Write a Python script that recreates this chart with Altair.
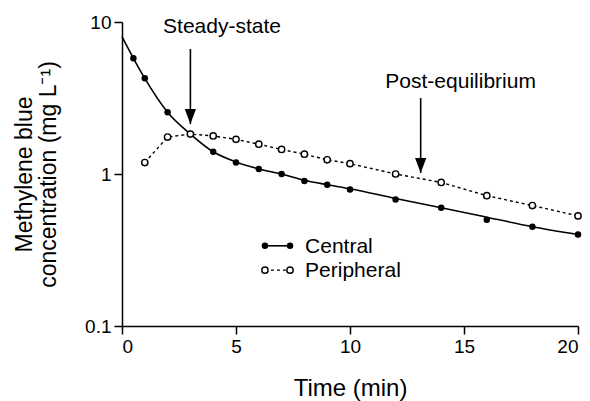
import altair as alt
import pandas as pd

# Measured data (central compartment, filled circles)
central_t = [0.5, 1, 2, 3, 4, 5, 6, 7, 8, 9, 10, 12, 14, 16, 18, 20]
central_v = [5.77, 4.26, 2.55, 1.83, 1.40, 1.19, 1.08, 1.00, 0.90, 0.85, 0.79, 0.68, 0.60, 0.50, 0.45, 0.40]

# Fitted curve for central compartment (solid line)
fit_t = [0, 0.5, 1, 2, 3, 4, 5, 6, 7, 8, 9, 10, 12, 14, 16, 18, 20]
fit_v = [8.0, 5.77, 4.26, 2.55, 1.83, 1.40, 1.20, 1.08, 1.00, 0.91, 0.85, 0.80, 0.69, 0.60, 0.52, 0.45, 0.40]

# Peripheral compartment (open circles, dotted line)
periph_t = [1, 2, 3, 4, 5, 6, 7, 8, 9, 10, 12, 14, 16, 18, 20]
periph_v = [1.19, 1.75, 1.83, 1.78, 1.69, 1.57, 1.45, 1.35, 1.24, 1.17, 1.00, 0.88, 0.72, 0.62, 0.53]

# Annotations
annot_labels = ["Steady-state", "Post-equilibrium"]
annot_text_t = [1.8, 11.55]
annot_text_v = [8.47, 3.68]
arrow_t = [3, 13.1]
arrow_top = [6.64, 3.16]
arrow_tip = [2.13, 1.015]

# Legend (in-plot key)
legend_labels = ["Central", "Peripheral"]
legend_v = [0.337, 0.233]
legend_t0 = [6.27, 6.27]
legend_t1 = [7.37, 7.37]
legend_text_t = [8.03, 8.03]

FONT = "Liberation Sans"

central_df = pd.DataFrame({"t": central_t, "v": central_v})
fit_df = pd.DataFrame({"t": fit_t, "v": fit_v})
periph_df = pd.DataFrame({"t": periph_t, "v": periph_v})
annot_df = pd.DataFrame({"label": annot_labels, "t": annot_text_t, "v": annot_text_v})
arrow_df = pd.DataFrame({"t": arrow_t, "v": arrow_top, "v2": arrow_tip})
tip_df = pd.DataFrame({"t": arrow_t, "v": arrow_tip})
leg_df = pd.DataFrame({"label": legend_labels, "v": legend_v,
                       "t": legend_t0, "t2": legend_t1, "tt": legend_text_t})
leg_pts = pd.DataFrame({"label": legend_labels * 2,
                        "v": legend_v * 2,
                        "t": legend_t0 + legend_t1})

xs = alt.Scale(domain=[0, 20], nice=False, zero=False)
ys = alt.Scale(type="log", domain=[0.1, 10], nice=False)

X = alt.X("t:Q", scale=xs, axis=alt.Axis(
    values=[0, 5, 10, 15, 20], title="Time (min)", grid=False,
    titleY=69, titleBaseline="alphabetic", titleFontSize=24))
Y = alt.Y("v:Q", scale=ys, axis=alt.Axis(
    values=[0.1, 1, 10], format="~g", grid=False,
    title=["Methylene blue", "concentration (mg L\u207b\u00b9)"],
    titleX=-91, titleY=152, titleAngle=-90, titleBaseline="alphabetic",
    titleLineHeight=24, titleAlign="center"))

fit_line = alt.Chart(fit_df).mark_line(
    color="black", strokeWidth=1.6, interpolate="monotone").encode(x=X, y=Y)

periph_line = alt.Chart(periph_df).mark_line(
    color="black", strokeWidth=1.4, strokeDash=[3, 3]).encode(x="t:Q", y="v:Q")

central_pts = alt.Chart(central_df).mark_point(
    shape="circle", filled=True, color="black", size=42, opacity=1).encode(x="t:Q", y="v:Q")

periph_pts = alt.Chart(periph_df).mark_point(
    shape="circle", filled=True, fill="white", stroke="black", strokeWidth=1.4,
    size=40, opacity=1).encode(x="t:Q", y="v:Q")

annot_text = alt.Chart(annot_df).mark_text(
    font=FONT, fontSize=21, align="left", baseline="alphabetic", color="black"
).encode(x="t:Q", y="v:Q", text="label:N")

arrow_shaft = alt.Chart(arrow_df).mark_rule(color="black", strokeWidth=1.6).encode(
    x="t:Q", y="v:Q", y2="v2")

arrow_head = alt.Chart(tip_df).mark_point(
    shape="M-0.75,-2 L0.75,-2 L0,0 Z", filled=True, color="black",
    size=225, opacity=1).encode(x="t:Q", y="v:Q")

# legend
leg_central_line = alt.Chart(leg_df[leg_df.label == "Central"]).mark_rule(
    color="black", strokeWidth=1.6).encode(x="t:Q", x2="t2", y="v:Q")
leg_periph_line = alt.Chart(leg_df[leg_df.label == "Peripheral"]).mark_rule(
    color="black", strokeWidth=1.4, strokeDash=[3, 3]).encode(x="t:Q", x2="t2", y="v:Q")
leg_central_pts = alt.Chart(leg_pts[leg_pts.label == "Central"]).mark_point(
    shape="circle", filled=True, color="black", size=42, opacity=1).encode(x="t:Q", y="v:Q")
leg_periph_pts = alt.Chart(leg_pts[leg_pts.label == "Peripheral"]).mark_point(
    shape="circle", filled=True, fill="white", stroke="black", strokeWidth=1.4,
    size=40, opacity=1).encode(x="t:Q", y="v:Q")
leg_text = alt.Chart(leg_df).mark_text(
    font=FONT, fontSize=21, align="left", baseline="middle", color="black", dy=1
).encode(x="tt:Q", y="v:Q", text="label:N")

chart = alt.layer(
    fit_line, periph_line, central_pts, periph_pts,
    arrow_shaft, arrow_head, annot_text,
    leg_central_line, leg_periph_line, leg_central_pts, leg_periph_pts, leg_text
).properties(
    width=456, height=304,
    autosize=alt.AutoSizeParams(type="none"),
    padding={"left": 122, "top": 22, "right": 12, "bottom": 75},
    background="white",
).configure_view(stroke=None).configure_axis(
    domainColor="black", domainWidth=1.5, tickColor="black", tickWidth=1.5,
    tickSize=8, labelFont=FONT, labelFontSize=19, labelColor="black",
    titleFont=FONT, titleFontSize=23, titleColor="black", titleFontWeight="normal",
    labelPadding=3
)

chart.save("out.html", embed_options={"renderer": "svg", "actions": False})
